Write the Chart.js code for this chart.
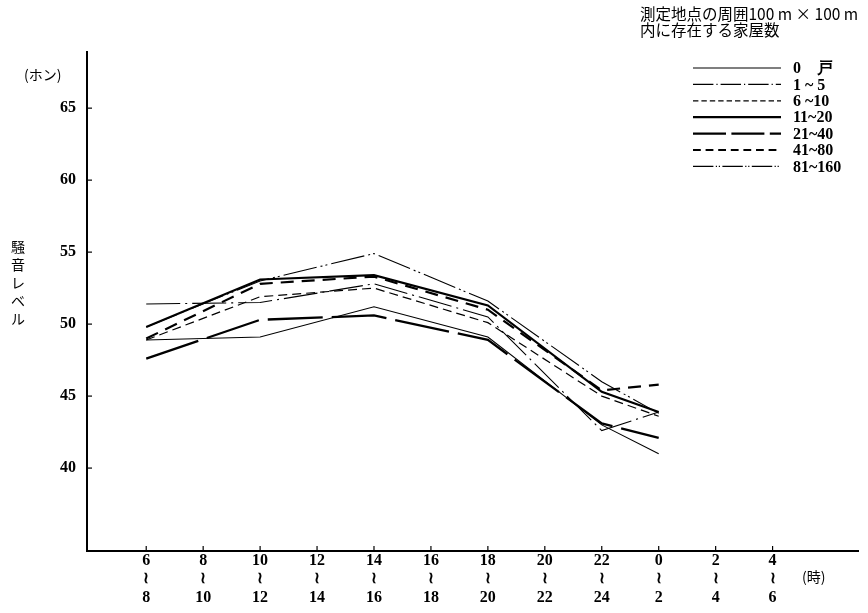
<!DOCTYPE html>
<html>
<head>
<meta charset="utf-8">
<script src="https://cdn.jsdelivr.net/npm/chart.js@4/dist/chart.umd.min.js"></script>
<style>
  html, body { margin: 0; padding: 0; background: #fff; }
  #wrap { position: relative; width: 868px; height: 613px; }
</style>
</head>
<body>
<div id="wrap"><canvas id="noise" width="868" height="613"></canvas></div>
<script>
// time bands along the bottom (hour ranges)
var timeLabels = [['6','≀','8'], ['8','≀','10'], ['10','≀','12'], ['12','≀','14'], ['14','≀','16'], ['16','≀','18'],
                  ['18','≀','20'], ['20','≀','22'], ['22','≀','24'], ['0','≀','2'], ['2','≀','4'], ['4','≀','6']];
// positions (index into timeLabels) where measurements were taken
var measureIdx = [0, 2, 4, 6, 8, 9];
var yTicks = [40, 45, 50, 55, 60, 65];

// noise level (phon) per number of houses within 100m x 100m
var houses0      = [48.9, 49.1, 51.2, 49.1, 43.0, 41.0];
var houses1to5   = [51.4, 51.5, 52.8, 50.5, 42.6, 43.9];
var houses6to10  = [48.9, 51.9, 52.5, 50.1, 45.0, 43.6];
var houses11to20 = [49.8, 53.1, 53.4, 51.3, 45.3, 43.9];
var houses21to40 = [47.6, 50.3, 50.6, 48.9, 43.1, 42.1];
var houses41to80 = [49.0, 52.8, 53.3, 51.0, 45.4, 45.8];
var houses81to160= [49.8, 53.0, 54.9, 51.6, 46.0, 43.8];

var seriesNames = ['0\u3000戸', '1 ~ 5', '6 ~10', '11~20', '21~40', '41~80', '81~160'];

function pts(vals) {
  return vals.map(function(v, i){ return {x: measureIdx[i], y: v}; });
}

var numFont = '"Liberation Serif", "DejaVu Serif", serif';
var jpFont = '"Noto Sans CJK JP", sans-serif';

var datasets = [
  {label: seriesNames[0], data: pts(houses0),      borderWidth: 1.1, borderDash: []},
  {label: seriesNames[1], data: pts(houses1to5),   borderWidth: 1.1, borderDash: [34, 5, 2, 5]},
  {label: seriesNames[2], data: pts(houses6to10),  borderWidth: 1.2, borderDash: [9, 5]},
  {label: seriesNames[3], data: pts(houses11to20), borderWidth: 2.2, borderDash: []},
  {label: seriesNames[4], data: pts(houses21to40), borderWidth: 2.3, borderDash: [55, 9]},
  {label: seriesNames[5], data: pts(houses41to80), borderWidth: 2.2, borderDash: [13, 8]},
  {label: seriesNames[6], data: pts(houses81to160),borderWidth: 1.1, borderDash: [34, 4, 2, 3, 2, 4]}
];
datasets.forEach(function(d){
  d.borderColor = '#000';
  d.backgroundColor = '#000';
  d.pointRadius = 0;
  d.tension = 0;
  d.fill = false;
});

// inward ticks, axis captions and the legend block
var extras = {
  id: 'extras',
  afterDraw: function(chart) {
    var c = chart.ctx, xs = chart.scales.x, ys = chart.scales.y, a = chart.chartArea;
    c.save();
    c.strokeStyle = '#000';
    c.lineWidth = 1.2;
    yTicks.forEach(function(t){
      var py = ys.getPixelForValue(t);
      c.beginPath(); c.moveTo(a.left, py); c.lineTo(a.left + 5, py); c.stroke();
    });
    timeLabels.forEach(function(t, i){
      var px = xs.getPixelForValue(i);
      c.beginPath(); c.moveTo(px, a.bottom); c.lineTo(px, a.bottom - 5); c.stroke();
    });

    c.fillStyle = '#000';
    c.textBaseline = 'middle';
    c.textAlign = 'left';
    c.font = '14px ' + jpFont;
    c.fillText('(ホン)', 24, 75);
    c.fillText('(時)', 802, 577);
    c.textAlign = 'center';
    ['騒','音','レ','ベ','ル'].forEach(function(ch, i){
      c.fillText(ch, 18, 247 + i * 18);
    });
    c.textAlign = 'left';
    c.font = '15.5px ' + jpFont;
    c.fillText('測定地点の周囲100 m × 100 m', 640, 14);
    c.fillText('内に存在する家屋数', 640, 30);

    // legend
    chart.data.datasets.forEach(function(d, i){
      var y = 68 + i * 16.4;
      c.lineWidth = d.borderWidth;
      c.setLineDash(d.borderDash.length ? d.borderDash.map(function(v){ return v * 0.6; }) : []);
      c.beginPath(); c.moveTo(693, y); c.lineTo(781, y); c.stroke();
      c.setLineDash([]);
      c.font = 'bold 16px ' + numFont;
      c.fillText(d.label, 793, y + 1);
    });
    c.restore();
  }
};

new Chart(document.getElementById('noise'), {
  type: 'line',
  data: {datasets: datasets},
  options: {
    responsive: false,
    animation: false,
    layout: {padding: {top: 52, right: 10, left: 0, bottom: 0}},
    plugins: {legend: {display: false}, tooltip: {enabled: false}},
    scales: {
      x: {
        type: 'linear',
        min: -1.04,
        max: 12.5,
        afterBuildTicks: function(s){ s.ticks = timeLabels.map(function(_, i){ return {value: i}; }); },
        afterFit: function(s){ s.height = 62; },
        grid: {display: false, drawTicks: false},
        border: {display: true, color: '#000', width: 2},
        ticks: {
          autoSkip: false, maxRotation: 0, padding: 0, color: '#000',
          font: {family: numFont, size: 16, weight: 'bold', lineHeight: 1.18},
          callback: function(v){ return timeLabels[v]; }
        }
      },
      y: {
        min: 34.24,
        max: 68.9,
        afterBuildTicks: function(s){ s.ticks = yTicks.map(function(v){ return {value: v}; }); },
        afterFit: function(s){ s.width = 87; },
        grid: {display: false, drawTicks: false},
        border: {display: true, color: '#000', width: 2},
        ticks: {padding: 11, color: '#000', font: {family: numFont, size: 16, weight: 'bold'}}
      }
    }
  },
  plugins: [extras]
});
</script>
</body>
</html>
